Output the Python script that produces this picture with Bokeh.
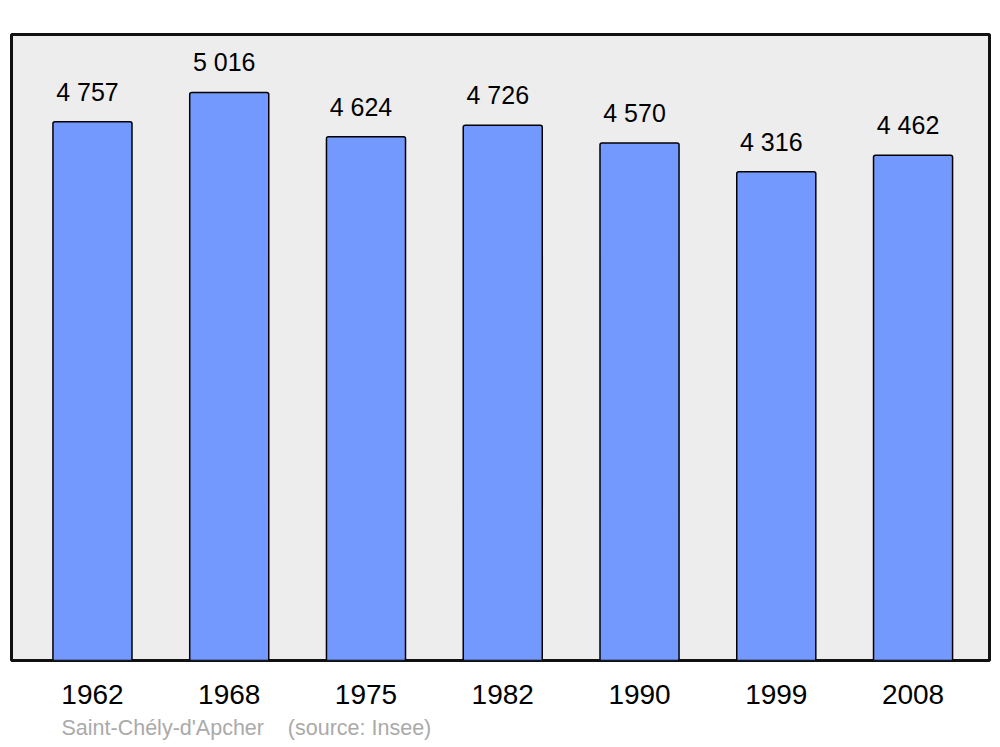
from bokeh.plotting import figure
from bokeh.models import ColumnDataSource, Title, FixedTicker, Range1d
from bokeh.core.properties import value
from bokeh.embed import file_html
from bokeh.resources import INLINE

years = ["1962", "1968", "1975", "1982", "1990", "1999", "2008"]
population = [4757, 5016, 4624, 4726, 4570, 4316, 4462]
footer = "Saint-Ch\u00e9ly-d'Apcher\u00a0\u00a0\u00a0\u00a0(source: Insee)"

xs = list(range(len(years)))
labels = [f"{v:,}".replace(",", " ") for v in population]
src = ColumnDataSource(dict(x=xs, top=population, label=labels))

FONT = "Liberation Sans"

p = figure(width=1000, height=747, output_backend="svg", toolbar_location=None,
           x_range=Range1d(-0.592, 6.559), y_range=Range1d(0, 5528),
           min_border_left=11, min_border_right=11, min_border_top=34, min_border_bottom=87)
p.background_fill_color = "#ededed"
p.border_fill_color = "white"
p.outline_line_color = "#111111"
p.outline_line_width = 3
p.grid.visible = False
p.yaxis.visible = False

p.vbar(x="x", top="top", width=0.578, source=src, fill_color="#7399ff",
       line_color="#000000", line_width=1.5, border_radius=dict(top_left=2, top_right=2))

p.text(x="x", y="top", text="label", source=src, text_align="center",
       text_baseline="alphabetic", y_offset=-30, x_offset=-5,
       text_font=value(FONT), text_font_size="25px", text_color="#000000")

ax = p.xaxis[0]
ax.ticker = FixedTicker(ticks=xs)
ax.major_label_overrides = {i: y for i, y in enumerate(years)}
ax.axis_line_color = None
ax.major_tick_line_color = None
ax.minor_tick_line_color = None
ax.major_tick_out = 0
ax.major_tick_in = 0
ax.major_label_standoff = 24
ax.major_label_text_font = FONT
ax.major_label_text_font_size = "28px"
ax.major_label_text_color = "#000000"

t = Title(text=footer, align="left", text_font=FONT, text_font_size="21.5px",
          text_color="#aaaaaa", text_font_style="normal", offset=50, standoff=14)
p.add_layout(t, "below")

open("out.html", "w").write(file_html(p, INLINE))
